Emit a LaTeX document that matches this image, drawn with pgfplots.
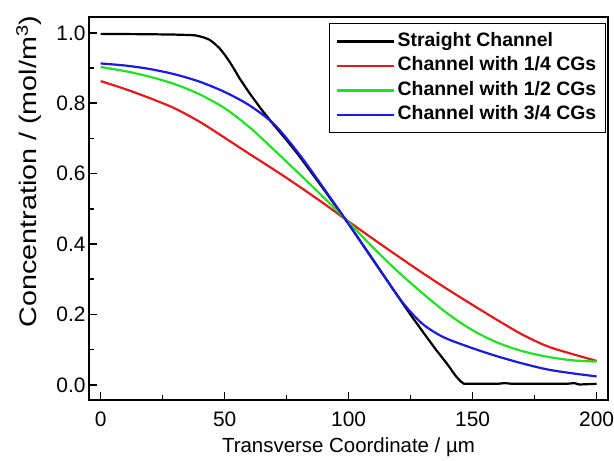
\documentclass[border=0pt]{standalone}
\usepackage{fontspec}
\setmainfont{Liberation Sans}
\usepackage{pgfplots}
\pgfplotsset{compat=1.18}
\definecolor{cred}{HTML}{E31A1C}
\definecolor{cgreen}{HTML}{22E022}
\definecolor{cblue}{HTML}{1A1AE0}

\begin{document}
\begin{tikzpicture}
\begin{axis}[
    name=ax,
    width=519bp, height=383bp, scale only axis,
    xmin=-4.7, xmax=204.6,
    ymin=-0.043, ymax=1.045,
    xtick={0,50,100,150,200},
    ytick={0,0.2,0.4,0.6,0.8,1.0},
    minor x tick num=1, minor y tick num=1,
    tick align=inside, tick pos=left,
    major tick length=8bp, minor tick length=5bp,
    every tick/.style={black, line width=1.6bp},
    axis line style={line width=2bp},
    ticklabel style={font=\fontsize{21}{24}\selectfont, /pgf/number format/assume math mode=true},
    yticklabel style={/pgf/number format/fixed, /pgf/number format/fixed zerofill, /pgf/number format/precision=1},
    xticklabel style={yshift=-8bp},
    xlabel={Transverse Coordinate / µm},
    xlabel style={at={(axis description cs:0.5,0)}, anchor=north, yshift=-37bp, inner sep=0pt, font=\fontsize{20.5}{24}\selectfont},
    ylabel={\scalebox{1.2}[1]{Concentration / (mol/m\textsuperscript{3})}},
    ylabel style={at={(axis description cs:-0.1156,0.597)}, anchor=center, inner sep=0pt, font=\fontsize{24}{28}\selectfont},
    legend style={at={(0.996,0.984)}, anchor=north east, draw=black, line width=1.3bp,
        inner xsep=6bp, inner ysep=5.5bp,
        font=\fontsize{19.5}{23}\selectfont\bfseries,
        nodes={inner xsep=3bp, inner ysep=1bp, text height=16bp, text depth=6.5bp}},
    legend cell align=left,
    legend image code/.code={\path (-15bp,0bp) -- (0bp,0bp); \draw[#1] (0bp,0bp) -- (42bp,0bp);},
]
\addplot[black, line width=2.2bp] coordinates {
(0,0.997) (20,0.996) (30,0.995) (35,0.994) (38,0.993) (40,0.990) (42,0.986) (44,0.980)
(46,0.969) (48,0.956) (50,0.938) (52,0.918) (54,0.895) (56,0.871) (58,0.850) (60,0.829)
(65,0.781) (70,0.737) (75,0.695) (80,0.651) (90,0.555) (100,0.457) (110,0.354)
(120,0.25) (125,0.199) (130,0.15) (135,0.102) (140,0.057) (143,0.027) (145,0.011)
(146.5,0.003) (160,0.003) (163,0.005) (166,0.003) (188,0.003) (191,0.005) (193,0.001)
(200,0.003)};
\addlegendentry{Straight Channel}
\addplot[cred, line width=2.2bp, smooth] coordinates {
(0,0.863) (10,0.840) (20,0.814) (30,0.785) (40,0.747) (50,0.702) (60,0.656) (70,0.611)
(80,0.564) (90,0.515) (100,0.464) (110,0.414) (120,0.365) (130,0.317) (140,0.271)
(150,0.227) (160,0.184) (170,0.143) (180,0.110) (190,0.088) (200,0.068)};
\addlegendentry{Channel with 1/4 CGs}
\addplot[cgreen, line width=2.2bp, smooth] coordinates {
(0,0.903) (10,0.891) (20,0.875) (30,0.854) (40,0.825) (50,0.786) (60,0.732) (70,0.667)
(80,0.600) (90,0.532) (100,0.462) (110,0.389) (120,0.321) (130,0.259) (140,0.202)
(150,0.155) (160,0.120) (170,0.096) (180,0.080) (190,0.070) (200,0.066)};
\addlegendentry{Channel with 1/2 CGs}
\addplot[cblue, line width=2.2bp, smooth] coordinates {
(0,0.913) (10,0.907) (20,0.897) (30,0.882) (40,0.861) (50,0.832) (60,0.794) (70,0.740)
(80,0.656) (90,0.558) (100,0.457) (110,0.353) (120,0.251) (125,0.207) (130,0.172)
(135,0.148) (140,0.130) (150,0.104) (160,0.081) (170,0.061) (180,0.044) (190,0.033)
(200,0.024)};
\addlegendentry{Channel with 3/4 CGs}
\end{axis}
\pgfresetboundingbox
\path[use as bounding box] ([shift={(-89bp,-61bp)}]ax.south west) rectangle ([shift={(6bp,17bp)}]ax.north east);
\end{tikzpicture}
\end{document}
